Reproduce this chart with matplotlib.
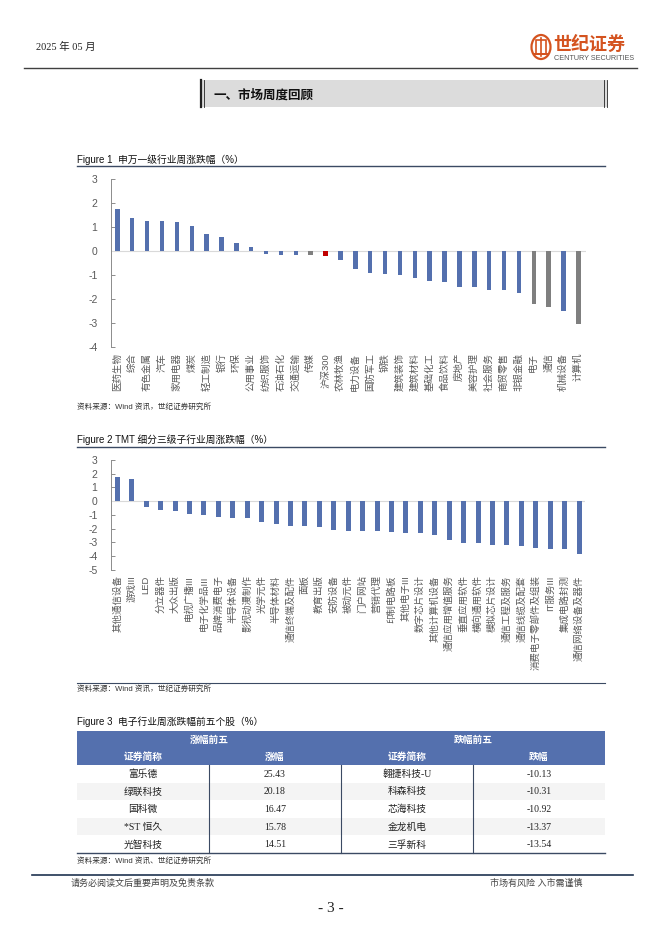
import matplotlib
matplotlib.use('Agg')
import matplotlib.pyplot as plt
from matplotlib.patches import Rectangle, Ellipse
import numpy as np

W, H = 662, 936
plt.rcParams['font.family'] = ['Liberation Sans', 'Noto Sans CJK SC']
plt.rcParams['axes.unicode_minus'] = False

# Figure 1: SW level-1 industries weekly change (%)
sw_names = ['医药生物', '综合', '有色金属', '汽车', '家用电器', '煤炭', '轻工制造', '银行',
            '环保', '公用事业', '纺织服饰', '石油石化', '交通运输', '传媒', '沪深300', '农林牧渔',
            '电力设备', '国防军工', '钢铁', '建筑装饰', '建筑材料', '基础化工', '食品饮料', '房地产',
            '美容护理', '社会服务', '商贸零售', '非银金融', '电子', '通信', '机械设备', '计算机']
sw_values = [1.78, 1.40, 1.28, 1.25, 1.21, 1.04, 0.72, 0.61,
             0.36, 0.19, -0.11, -0.14, -0.15, -0.15, -0.18, -0.36,
             -0.72, -0.90, -0.94, -0.99, -1.11, -1.24, -1.28, -1.47,
             -1.49, -1.60, -1.61, -1.72, -2.19, -2.32, -2.49, -3.01]
tmt_group = ['传媒', '电子', '通信', '计算机']
index_name = '沪深300'

# Figure 2: TMT level-3 sub-industries weekly change (%)
tmt_names = ['其他通信设备', '游戏III', 'LED', '分立器件', '大众出版', '电视广播III', '电子化学品III',
             '品牌消费电子', '半导体设备', '影视动漫制作', '光学元件', '半导体材料', '通信终端及配件',
             '面板', '教育出版', '安防设备', '被动元件', '门户网站', '营销代理', '印制电路板',
             '其他电子III', '数字芯片设计', '其他计算机设备', '通信应用增值服务', '垂直应用软件',
             '横向通用软件', '模拟芯片设计', '通信工程及服务', '通信线缆及配套', '消费电子零部件及组装',
             'IT服务III', '集成电路封测', '通信网络设备及器件']
tmt_values = [1.77, 1.62, -0.46, -0.61, -0.75, -0.95, -1.04,
              -1.14, -1.21, -1.24, -1.50, -1.65, -1.80,
              -1.84, -1.89, -2.11, -2.16, -2.18, -2.21, -2.26,
              -2.31, -2.31, -2.50, -2.86, -3.06,
              -3.06, -3.18, -3.23, -3.25, -3.45,
              -3.47, -3.50, -3.88]

# Figure 3: top five gainers / losers in electronics
gain_names = ['富乐德', '绿联科技', '国科微', '*ST 恒久', '光智科技']
gain_pct = ['25.43', '20.18', '16.47', '15.78', '14.51']
loss_names = ['翱捷科技-U', '科森科技', '芯海科技', '金龙机电', '三孚新科']
loss_pct = ['-10.13', '-10.31', '-10.92', '-13.37', '-13.54']

BLUE = '#5470AE'
GRAY = '#7F7F7F'
RED = '#C00000'
NAVY = '#3B4A63'
SERIF = ['Liberation Serif', 'Noto Sans CJK SC']

fig = plt.figure(figsize=(W / 100, H / 100), dpi=100)
page = fig.add_axes([0, 0, 1, 1])
page.set_xlim(0, W)
page.set_ylim(H, 0)
page.axis('off')


def px_axes(x0, y0, x1, y1):
    return fig.add_axes([x0 / W, 1 - y1 / H, (x1 - x0) / W, (y1 - y0) / H])


def bar_chart(ax, names, values, colors, ylim, xlim, width):
    x = np.arange(len(names))
    ax.bar(x, values, width=width, color=colors, zorder=3)
    ax.axhline(0, color='#D9D9D9', lw=0.8, zorder=2)
    ax.set_xlim(*xlim)
    ax.set_ylim(*ylim)
    ax.set_yticks(range(ylim[0], ylim[1] + 1))
    for s in ['top', 'right', 'bottom']:
        ax.spines[s].set_visible(False)
    ax.spines['left'].set_color('#8C8C8C')
    ax.spines['left'].set_linewidth(0.7)
    ax.tick_params(axis='y', direction='in', length=3, width=0.7, color='#8C8C8C',
                   labelsize=7.5, labelcolor='#595959', pad=9.5)
    ax.set_xticks(x)
    ax.set_xticklabels(names, rotation=90, fontsize=6.8, color='#595959', va='top', ha='center')
    ax.tick_params(axis='x', length=0, pad=4)
    ax.patch.set_alpha(0)


# ---- header ----
page.text(36, 47, '2025 年 05 月', fontsize=7.5, family=SERIF, va='center', color='#222222')
page.add_patch(Ellipse((541, 47), 19, 24, fill=False, ec='#D4531F', lw=1.6))
page.add_patch(Rectangle((536, 40), 10, 14, fill=False, ec='#D4531F', lw=1.2))
page.plot([541, 541], [38, 56], color='#D4531F', lw=1.2)
page.plot([534, 548], [54, 54], color='#D4531F', lw=1.4)
page.text(553, 45, '世纪证券', fontsize=13, fontweight='bold', color='#D4531F', va='center')
page.text(554, 59, 'CENTURY SECURITIES', fontsize=5.2, color='#555555', va='center')
page.plot([24, 637], [68, 68], color='#404040', lw=1.0)

# section box
page.add_patch(Rectangle((200, 80), 407, 27, fc='#DCDCDC', ec='none'))
page.plot([201, 201], [80, 107], color='#222222', lw=1.6)
page.plot([204, 204], [80, 107], color='#222222', lw=0.6)
page.plot([604, 604], [80, 107], color='#222222', lw=0.6)
page.plot([606.5, 606.5], [80, 107], color='#222222', lw=0.6)
page.text(213, 96, '一、市场周度回顾', fontsize=9, fontweight='bold', va='center', color='#111111')

# ---- Figure 1 ----
page.text(77, 160, 'Figure 1  申万一级行业周涨跌幅（%）', fontsize=7, va='center', color='#111111')
page.plot([77, 605], [166, 166], color=NAVY, lw=1.0)
sw_colors = [RED if n == index_name else (GRAY if n in tmt_group else BLUE) for n in sw_names]
ax1 = px_axes(110.7, 179.3, 585.8, 347.3)
bar_chart(ax1, sw_names, sw_values, sw_colors, (-4, 3), (-0.45, 31.5), 0.3)
page.text(77, 407, '资料来源：Wind 资讯，世纪证券研究所', fontsize=5.5, va='center', color='#333333')

# ---- Figure 2 ----
page.text(77, 440, 'Figure 2 TMT 细分三级子行业周涨跌幅（%）', fontsize=7, va='center', color='#111111')
page.plot([77, 605], [447, 447], color=NAVY, lw=1.0)
ax2 = px_axes(110.7, 460, 585, 569.7)
bar_chart(ax2, tmt_names, tmt_values, BLUE, (-5, 3), (-0.46, 32.41), 0.35)
page.plot([77, 605], [683, 683], color=NAVY, lw=0.8)
page.text(77, 689, '资料来源：Wind 资讯，世纪证券研究所', fontsize=5.5, va='center', color='#333333')

# ---- Figure 3 table ----
page.text(77, 722, 'Figure 3  电子行业周涨跌幅前五个股（%）', fontsize=7, va='center', color='#111111')
cols = [77, 209, 341, 473, 605]
top, head_bot, row_h = 731, 765, 17.6
page.add_patch(Rectangle((cols[0], top), cols[-1] - cols[0], head_bot - top, fc=BLUE, ec='none'))
page.text((cols[0] + cols[2]) / 2, 740, '涨幅前五', fontsize=7, fontweight='bold', color='white',
          ha='center', va='center')
page.text((cols[2] + cols[4]) / 2, 740, '跌幅前五', fontsize=7, fontweight='bold', color='white',
          ha='center', va='center')
for i, h in enumerate(['证券简称', '涨幅', '证券简称', '跌幅']):
    page.text((cols[i] + cols[i + 1]) / 2, 757, h, fontsize=7, fontweight='bold', color='white',
              ha='center', va='center')
for r in range(len(gain_names)):
    y0 = head_bot + r * row_h
    if r % 2 == 1:
        page.add_patch(Rectangle((cols[0], y0), cols[-1] - cols[0], row_h, fc='#F4F4F4', ec='none'))
    row = [gain_names[r], gain_pct[r], loss_names[r], loss_pct[r]]
    for i, v in enumerate(row):
        page.text((cols[i] + cols[i + 1]) / 2, y0 + row_h / 2 + 0.5, v, fontsize=7, family=SERIF,
                  ha='center', va='center', color='#222222')
tab_bot = head_bot + len(gain_names) * row_h
for cx in cols[1:-1]:
    page.plot([cx, cx], [head_bot, tab_bot], color=NAVY, lw=0.8)
page.plot([cols[0], cols[-1]], [tab_bot, tab_bot], color=NAVY, lw=1.0)
page.text(77, 861, '资料来源：Wind 资讯、世纪证券研究所', fontsize=5.5, va='center', color='#333333')

# ---- footer ----
page.plot([32, 633], [875, 875], color='#1F3350', lw=1.2)
page.text(71, 883, '请务必阅读文后重要声明及免责条款', fontsize=6.5, va='center', color='#444444')
page.text(490, 883, '市场有风险 入市需谨慎', fontsize=6.5, va='center', color='#444444')
page.text(331, 908, '- 3 -', fontsize=11, family=SERIF, ha='center', va='center', color='#222222')

fig.savefig('out.png', dpi=100)
